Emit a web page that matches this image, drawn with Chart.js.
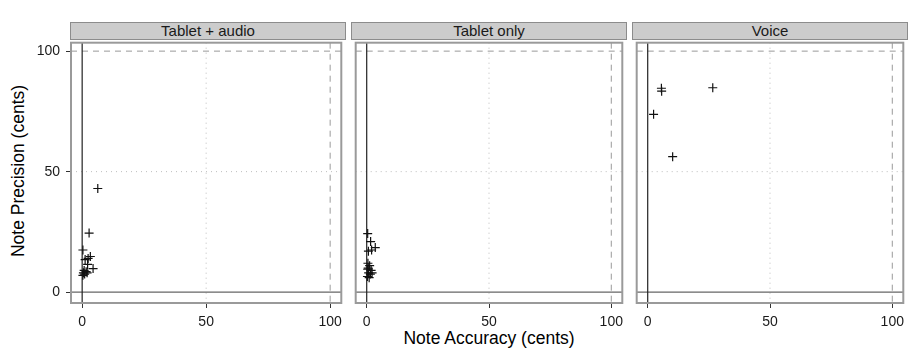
<!DOCTYPE html>
<html lang="en">
<head>
<meta charset="UTF-8">
<title>Note Accuracy vs Note Precision</title>
<script src="https://cdn.jsdelivr.net/npm/chart.js"></script>
<style>
  body { margin: 0; background: #fff; font-family: "Liberation Sans", Arial, sans-serif; }
  #wrap { position: relative; width: 909px; height: 351px; overflow: hidden; }
  .panel { position: absolute; }
  .panel canvas { display: block; }
  .strip {
    position: absolute; top: 22px; height: 18px; box-sizing: border-box;
    background: #cccccc; border: 1px solid #8c8c8c;
    font-size: 15px; color: #1a1a1a; text-align: center; line-height: 16px;
  }
  .xtitle { position: absolute; left: 71px; width: 836px; top: 328px; text-align: center; font-size: 17.5px; color: #000; }
  .ytitle {
    position: absolute; left: 18px; top: 171px; font-size: 17.5px; color: #000; white-space: nowrap;
    transform: translate(-50%, -50%) rotate(-90deg);
  }
</style>
</head>
<body>
<div id="wrap">
  <div class="ytitle">Note Precision (cents)</div>
  <div class="xtitle">Note Accuracy (cents)</div>
</div>

<script>
// facet names
const panelNames = ["Tablet + audio", "Tablet only", "Voice"];

// Tablet + audio
const audioAccuracy  = [6.3, 2.8, 0.3, 2.4, 3.3, 1.2, 4.4, 2.2, 0.5, 1.0, 1.6, 0.3, 2.0, 0.8];
const audioPrecision = [43.0, 24.5, 17.5, 14.0, 14.8, 13.5, 9.8, 11.5, 8.0, 7.5, 8.5, 7.0, 8.0, 9.0];

// Tablet only
const tabletAccuracy  = [0.4, 1.6, 3.5, 0.7, 2.0, 0.5, 1.2, 0.6, 1.8, 0.8, 1.5, 0.3, 1.0, 2.2, 0.4];
const tabletPrecision = [24.3, 21.0, 18.5, 17.0, 17.5, 12.0, 11.0, 10.0, 9.0, 8.0, 7.5, 6.5, 6.0, 8.0, 9.5];

// Voice
const voiceAccuracy  = [5.6, 5.7, 26.6, 2.4, 10.2];
const voicePrecision = [84.6, 83.4, 84.8, 73.8, 56.2];

const xTickValues = [0, 50, 100];
const yTickValues = [0, 50, 100];

// reference lines: solid at 0, dotted at 50, dashed at 100
const solidRef = 0;
const dottedRef = 50;
const dashedRef = 100;

const seriesX = [audioAccuracy, tabletAccuracy, voiceAccuracy];
const seriesY = [audioPrecision, tabletPrecision, voicePrecision];

// layout (page pixels)
const plotLefts = [71, 352, 633];
const plotWidth = 274;
const plotTop = 39;
const plotBottom = 303;
const xAxisHeight = 35;
const yAxisWidth = 71;

function noPadding(s) {
  s.paddingLeft = 0;
  s.paddingRight = 0;
  s.paddingTop = 0;
  s.paddingBottom = 0;
}

const refLines = {
  id: "refLines",
  beforeDatasetsDraw(chart) {
    const { ctx, chartArea: a, scales: { x, y } } = chart;
    ctx.save();
    ctx.beginPath();
    ctx.rect(a.left, a.top, a.right - a.left, a.bottom - a.top);
    ctx.clip();

    function vline(v, color, width, dash) {
      const px = x.getPixelForValue(v);
      ctx.beginPath();
      ctx.setLineDash(dash);
      ctx.strokeStyle = color;
      ctx.lineWidth = width;
      ctx.moveTo(px, a.top);
      ctx.lineTo(px, a.bottom);
      ctx.stroke();
    }
    function hline(v, color, width, dash) {
      const py = y.getPixelForValue(v);
      ctx.beginPath();
      ctx.setLineDash(dash);
      ctx.strokeStyle = color;
      ctx.lineWidth = width;
      ctx.moveTo(a.left, py);
      ctx.lineTo(a.right, py);
      ctx.stroke();
    }
    hline(dottedRef, "#bdbdbd", 1, [1, 4]);
    vline(dottedRef, "#bdbdbd", 1, [1, 4]);
    hline(dashedRef, "#9a9a9a", 1, [6, 5]);
    vline(dashedRef, "#9a9a9a", 1, [6, 5]);
    hline(solidRef, "#666666", 1.2, []);
    vline(solidRef, "#222222", 1.2, []);
    ctx.restore();
  },
  afterDraw(chart) {
    const { ctx, chartArea: a } = chart;
    ctx.save();
    ctx.strokeStyle = "#9a9a9a";
    ctx.lineWidth = 2;
    ctx.strokeRect(a.left, a.top, a.right - a.left, a.bottom - a.top);
    ctx.restore();
  }
};

const wrap = document.getElementById("wrap");

panelNames.forEach((name, i) => {
  const strip = document.createElement("div");
  strip.className = "strip";
  strip.style.left = (plotLefts[i] - 1) + "px";
  strip.style.width = (plotWidth + 2) + "px";
  strip.textContent = name;
  wrap.appendChild(strip);

  const first = i === 0;
  const padL = first ? 0 : 2;
  const leftSpace = first ? yAxisWidth : 2;
  const box = document.createElement("div");
  box.className = "panel";
  box.style.left = (plotLefts[i] - leftSpace) + "px";
  box.style.top = (plotTop - 2) + "px";
  const w = leftSpace + plotWidth + 2;
  const h = 2 + (plotBottom - plotTop) + xAxisHeight;
  const canvas = document.createElement("canvas");
  canvas.width = w;
  canvas.height = h;
  box.appendChild(canvas);
  wrap.appendChild(box);

  const points = seriesX[i].map((v, k) => ({ x: v, y: seriesY[i][k] }));

  new Chart(canvas, {
    type: "scatter",
    data: {
      datasets: [{
        data: points,
        pointStyle: "cross",
        pointRadius: 4.5,
        pointHoverRadius: 4.5,
        borderColor: "#111",
        borderWidth: 1.2,
        backgroundColor: "#111"
      }]
    },
    plugins: [refLines],
    options: {
      responsive: false,
      animation: false,
      devicePixelRatio: 1,
      layout: { padding: { left: padL, right: 2, top: 2, bottom: 0 } },
      plugins: { legend: { display: false }, tooltip: { enabled: false } },
      scales: {
        x: {
          type: "linear",
          min: -4.5,
          max: 104.5,
          afterBuildTicks: s => { s.ticks = xTickValues.map(v => ({ value: v })); },
          afterFit: s => { s.height = xAxisHeight; noPadding(s); },
          grid: { drawOnChartArea: false, drawTicks: true, tickLength: 5, tickColor: "#333", tickWidth: 1 },
          border: { display: false },
          ticks: { color: "#1a1a1a", font: { size: 14, family: "Liberation Sans" }, padding: 6, maxRotation: 0 }
        },
        y: {
          type: "linear",
          display: first,
          min: -4.5,
          max: 103.5,
          afterBuildTicks: s => { s.ticks = yTickValues.map(v => ({ value: v })); },
          afterFit: s => { if (first) s.width = yAxisWidth; noPadding(s); },
          grid: { drawOnChartArea: false, drawTicks: true, tickLength: 5, tickColor: "#333", tickWidth: 1 },
          border: { display: false },
          ticks: { color: "#1a1a1a", font: { size: 14, family: "Liberation Sans" }, padding: 6 }
        }
      }
    }
  });
});
</script>
</body>
</html>
